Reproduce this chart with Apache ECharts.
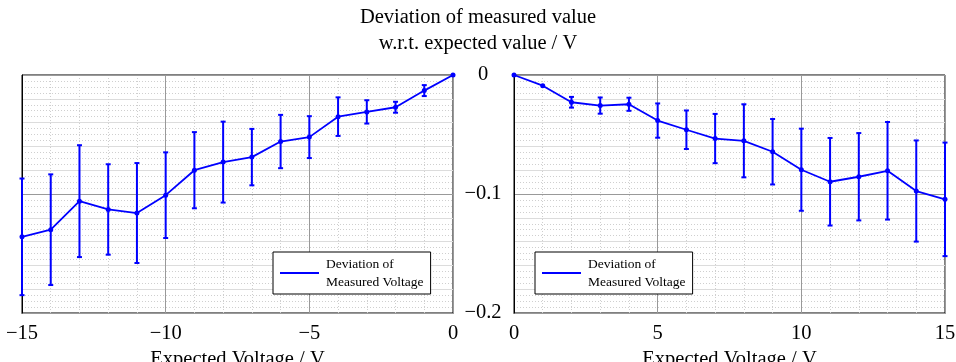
<!DOCTYPE html>
<html>
<head>
<meta charset="utf-8">
<script src="https://cdn.jsdelivr.net/npm/echarts@6/dist/echarts.min.js"></script>
<style>html,body{margin:0;padding:0;background:#fff;}#c{width:956px;height:362px;}</style>
</head>
<body>
<div id="c"></div>
<script>
var leftX = [-15,-14,-13,-12,-11,-10,-9,-8,-7,-6,-5,-4,-3,-2,-1,0];
var leftY = [-0.136,-0.130,-0.106,-0.113,-0.116,-0.101,-0.080,-0.0732,-0.069,-0.0559,-0.0522,-0.035,-0.031,-0.0271,-0.0131,0];
var leftErr = [0.049,0.0465,0.047,0.038,0.042,0.036,0.032,0.034,0.0237,0.0224,0.0176,0.0162,0.0098,0.0046,0.0046,0];

var rightX = [0,1,2,3,4,5,6,7,8,9,10,11,12,13,14,15];
var rightY = [0,-0.009,-0.0229,-0.0257,-0.0246,-0.0383,-0.046,-0.0534,-0.0553,-0.0645,-0.0796,-0.0897,-0.0855,-0.0805,-0.0975,-0.1045];
var rightErr = [0,0,0.0045,0.0068,0.0055,0.0144,0.0162,0.0207,0.0307,0.0275,0.0345,0.0368,0.0367,0.041,0.0425,0.0477];

var titleText = 'Deviation of measured value\nw.r.t. expected value / V';
var xName = 'Expected Voltage / V';
var seriesName = 'Deviation of Measured Voltage';
var legendLabel = 'Deviation of\nMeasured Voltage';

var FONT = 'Liberation Serif';
var BLUE = '#0000ff';

function minus(v){
  var a = Math.round(Math.abs(v)*1000)/1000;
  return (v < -1e-9 ? '\u2212' : '') + a;
}
function pts(xs, ys){ return xs.map(function(x,i){ return [x, ys[i]]; }); }
function bars(xs, ys, es){ return xs.map(function(x,i){ return [x, ys[i]-es[i], ys[i]+es[i]]; }); }

function errRender(params, api){
  var x = api.value(0), lo = api.value(1), hi = api.value(2);
  if (Math.abs(hi - lo) < 1e-9) return null;
  var p1 = api.coord([x, hi]), p2 = api.coord([x, lo]);
  var cw = 2.5;
  var st = {stroke: BLUE, lineWidth: 2};
  return {type:'group', children:[
    {type:'line', shape:{x1:p1[0],y1:p1[1],x2:p2[0],y2:p2[1]}, style:st},
    {type:'line', shape:{x1:p1[0]-cw,y1:p1[1],x2:p1[0]+cw,y2:p1[1]}, style:st},
    {type:'line', shape:{x1:p2[0]-cw,y1:p2[1],x2:p2[0]+cw,y2:p2[1]}, style:st}
  ]};
}

function xAxisCfg(gi, min, max){
  return {
    type:'value', gridIndex:gi, min:min, max:max, interval:5,
    name:xName, nameLocation:'middle', nameGap:27,
    nameTextStyle:{fontFamily:FONT, fontSize:20.5, color:'#000'},
    axisLine:{show:true, onZero:false, lineStyle:{color:'#000', width:1}},
    axisTick:{show:false},
    axisLabel:{fontFamily:FONT, fontSize:20.5, color:'#000', margin:10, formatter:minus},
    splitLine:{show:true, lineStyle:{color:'#999', width:1}},
    minorTick:{show:false, splitNumber:5},
    minorSplitLine:{show:true, lineStyle:{color:'#cfcfcf', width:1, type:[1,2]}}
  };
}
function yMajor(gi, showLabel){
  return {
    type:'value', gridIndex:gi, min:-0.2, max:0, interval:0.1, z:1,
    axisLine:{show:true, onZero:false, lineStyle:{color:'#000', width:1}},
    axisTick:{show:false},
    axisLabel:{show:showLabel, fontFamily:FONT, fontSize:20.5, color:'#000', align:'center', margin:31, formatter:minus},
    splitLine:{show:true, lineStyle:{color:'#999', width:1}}
  };
}
function yMinor(gi){
  return {
    type:'value', gridIndex:gi, min:-0.2, max:0, interval:0.02, position:'left', z:0,
    axisLine:{show:false}, axisTick:{show:false}, axisLabel:{show:false},
    splitLine:{show:true, lineStyle:{color:'#dcdcdc', width:1}},
    minorTick:{show:false, splitNumber:4},
    minorSplitLine:{show:true, lineStyle:{color:'#cfcfcf', width:1, type:[1,2]}}
  };
}
function legendCfg(left){
  return {
    data:[seriesName], left:left, top:252, orient:'vertical',
    backgroundColor:'#fff', borderColor:'#000', borderWidth:1, borderRadius:0,
    padding:[3,7,3,7], itemWidth:39, itemHeight:2, icon:'rect',
    itemStyle:{color:BLUE},
    formatter:function(){ return legendLabel; },
    textStyle:{fontFamily:FONT, fontSize:13.5, color:'#000', lineHeight:18, padding:[0,0,0,2]}
  };
}

var chart = echarts.init(document.getElementById('c'), null, {renderer:'canvas'});
chart.setOption({
  animation:false,
  backgroundColor:'#fff',
  title:{text:titleText, left:'center', top:5, padding:0,
    textStyle:{fontFamily:FONT, fontSize:20.5, fontWeight:'normal', color:'#000', lineHeight:26}},
  grid:[
    {left:22, top:75, width:431, height:238, show:true, borderColor:'#000', borderWidth:1, backgroundColor:'transparent', outerBoundsMode:'none', containLabel:false},
    {left:514, top:75, width:431, height:238, show:true, borderColor:'#000', borderWidth:1, backgroundColor:'transparent', outerBoundsMode:'none', containLabel:false}
  ],
  legend:[legendCfg(273), legendCfg(535)],
  xAxis:[xAxisCfg(0,-15,0), xAxisCfg(1,0,15)],
  yAxis:[yMajor(0,false), yMinor(0), yMajor(1,true), yMinor(1)],
  series:[
    {type:'custom', name:'errL', xAxisIndex:0, yAxisIndex:0, clip:false, z:3,
      renderItem:errRender, encode:{x:0, y:[1,2]}, data:bars(leftX,leftY,leftErr)},
    {type:'line', name:seriesName, xAxisIndex:0, yAxisIndex:0, z:4,
      symbol:'circle', symbolSize:5, showSymbol:true, clip:false,
      lineStyle:{color:BLUE, width:1.8}, itemStyle:{color:BLUE},
      data:pts(leftX,leftY)},
    {type:'custom', name:'errR', xAxisIndex:1, yAxisIndex:2, clip:false, z:3,
      renderItem:errRender, encode:{x:0, y:[1,2]}, data:bars(rightX,rightY,rightErr)},
    {type:'line', name:seriesName, xAxisIndex:1, yAxisIndex:2, z:4,
      symbol:'circle', symbolSize:5, showSymbol:true, clip:false,
      lineStyle:{color:BLUE, width:1.8}, itemStyle:{color:BLUE},
      data:pts(rightX,rightY)}
  ]
});
</script>
</body>
</html>
